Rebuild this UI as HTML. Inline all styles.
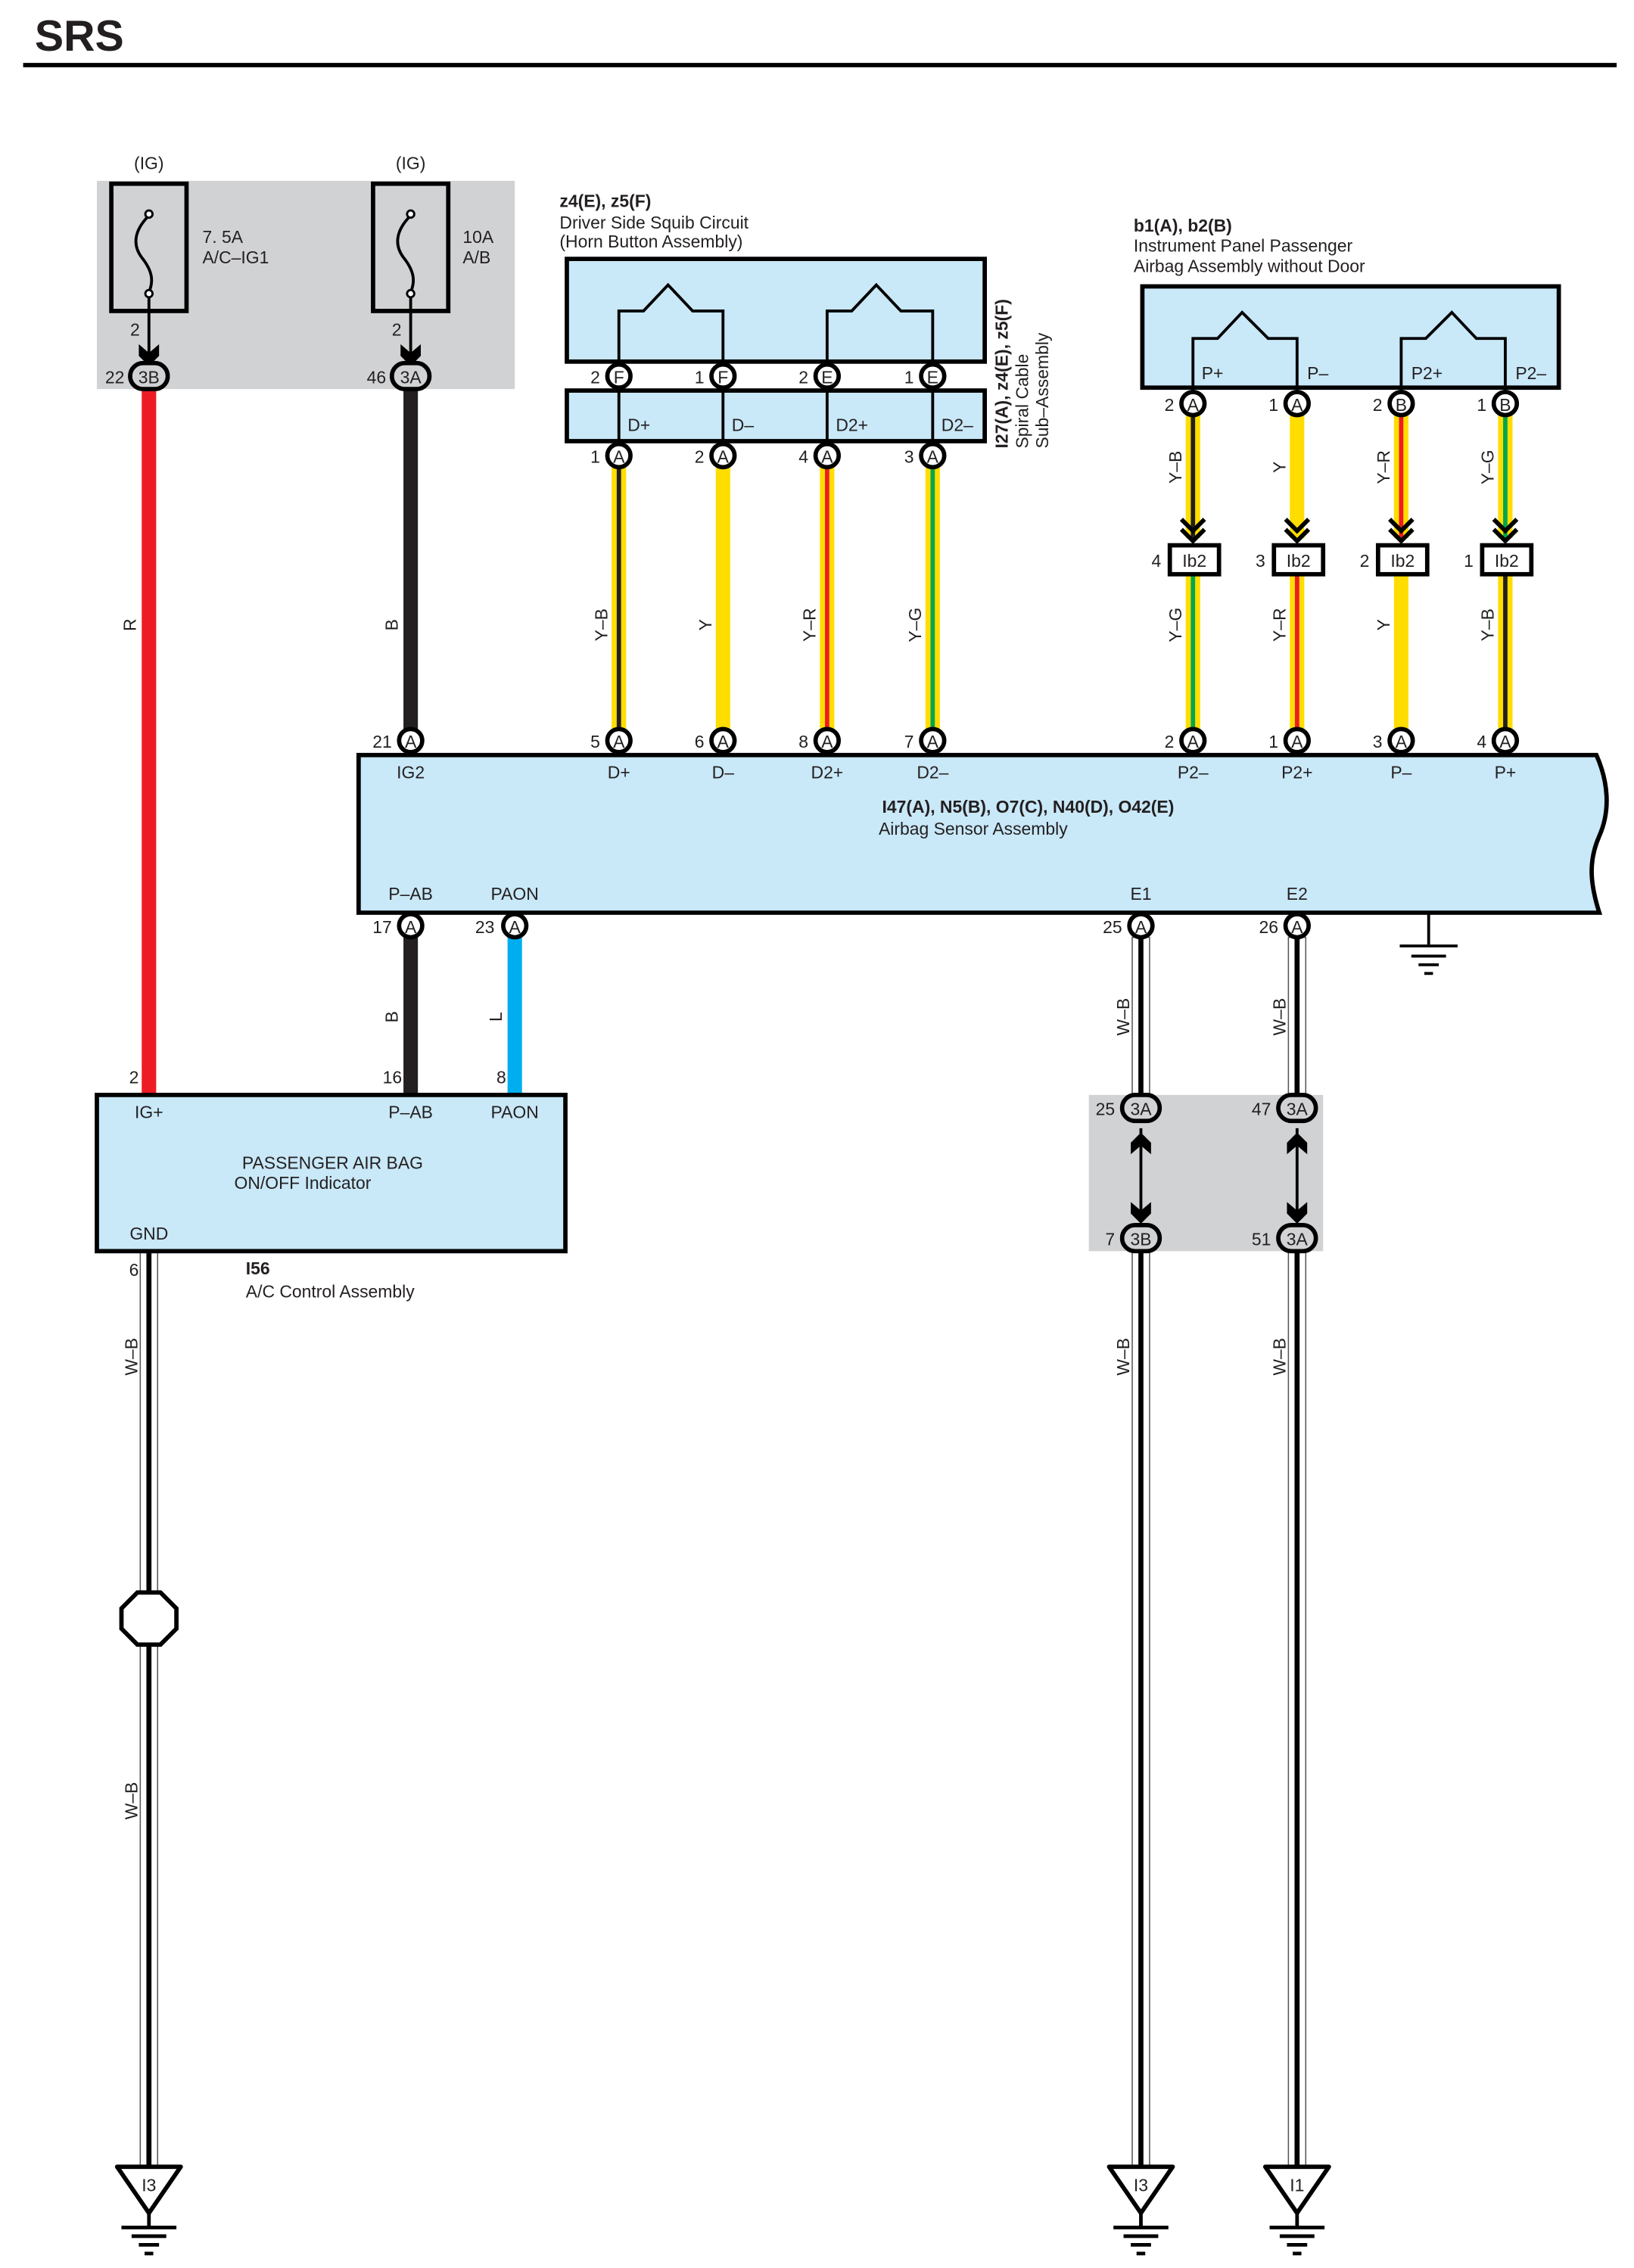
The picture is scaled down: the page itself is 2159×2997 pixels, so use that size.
<!DOCTYPE html>
<html><head><meta charset="utf-8">
<style>
html,body{margin:0;padding:0;background:#fff;}
svg{display:block;}
text{font-family:"Liberation Sans Narrow","Liberation Sans",sans-serif;font-size:12px;fill:#231f20;}
.b{font-weight:bold;}
.c{text-anchor:middle;}
.e{text-anchor:end;}
</style></head><body>
<svg width="2159" height="2997" viewBox="0 0 1130 1568" preserveAspectRatio="none" xmlns="http://www.w3.org/2000/svg">
<!-- title -->
<text x="24" y="35" style="font-family:'Liberation Sans',sans-serif;font-size:30px;font-weight:bold">SRS</text>
<line x1="16" y1="45" x2="1118" y2="45" stroke="#000" stroke-width="3"/>

<rect x="67" y="125" width="289" height="144" fill="#d1d2d4"/>
<rect x="753" y="757" width="162" height="108" fill="#d1d2d4"/>

<!-- fuses -->
<text x="103" y="117" class="c">(IG)</text>
<text x="284" y="117" class="c">(IG)</text>
<rect x="77" y="127" width="52" height="88" fill="none" stroke="#000" stroke-width="3"/>
<rect x="258" y="127" width="52" height="88" fill="none" stroke="#000" stroke-width="3"/>
<g fill="none" stroke="#000" stroke-width="2">
<path d="M103 149 C92 160,92 170,98 178 C106 188,106 195,103 202"/>
<path d="M284 149 C273 160,273 170,279 178 C287 188,287 195,284 202"/>
<line x1="103" y1="202" x2="103" y2="248"/>
<line x1="284" y1="202" x2="284" y2="248"/>
</g>
<circle cx="103" cy="148" r="2.5" fill="#fff" stroke="#000" stroke-width="1.5"/>
<circle cx="103" cy="203" r="2.5" fill="#fff" stroke="#000" stroke-width="1.5"/>
<circle cx="284" cy="148" r="2.5" fill="#fff" stroke="#000" stroke-width="1.5"/>
<circle cx="284" cy="203" r="2.5" fill="#fff" stroke="#000" stroke-width="1.5"/>
<path d="M96 238 L103 244 L110 238 L110 246 L103 253 L96 246Z" fill="#000"/>
<path d="M277 238 L284 244 L291 238 L291 246 L284 253 L277 246Z" fill="#000"/>
<text x="140" y="168">7. 5A</text><text x="140" y="182">A/C–IG1</text>
<text x="320" y="168">10A</text><text x="320" y="182">A/B</text>
<text x="90" y="232">2</text><text x="271" y="232">2</text>

<line x1="103" y1="268" x2="103" y2="757" stroke="#ed1c24" stroke-width="10"/>
<line x1="284" y1="268" x2="284" y2="512" stroke="#231f20" stroke-width="10"/>
<line x1="284" y1="640" x2="284" y2="757" stroke="#231f20" stroke-width="10"/>
<line x1="356" y1="640" x2="356" y2="757" stroke="#00aeef" stroke-width="10"/>
<g transform="translate(94,432) rotate(-90)"><text class="c">R</text></g>
<g transform="translate(275,432) rotate(-90)"><text class="c">B</text></g>
<g transform="translate(275,703) rotate(-90)"><text class="c">B</text></g>
<g transform="translate(347,703) rotate(-90)"><text class="c">L</text></g>

<rect x="90" y="251" width="26" height="18" rx="9" fill="#d1d2d4" stroke="#000" stroke-width="3"/>
<text x="103" y="265" class="c">3B</text><text x="86" y="265" class="e">22</text>
<rect x="271" y="251" width="26" height="18" rx="9" fill="#d1d2d4" stroke="#000" stroke-width="3"/>
<text x="284" y="265" class="c">3A</text><text x="267" y="265" class="e">46</text>

<!-- driver squib -->
<text x="387" y="143" class="b">z4(E), z5(F)</text>
<text x="387" y="158">Driver Side Squib Circuit</text>
<text x="387" y="171">(Horn Button Assembly)</text>
<rect x="392" y="179" width="289" height="71" fill="#c9e8f8" stroke="#000" stroke-width="3"/>
<rect x="392" y="270" width="289" height="35" fill="#c9e8f8" stroke="#000" stroke-width="3"/>
<g fill="none" stroke="#000" stroke-width="2">
<path d="M428 260 V215 H445 L462 197 L479 215 H500 V260"/>
<path d="M572 260 V215 H589 L606 197 L623 215 H645 V260"/>
<line x1="428" y1="270" x2="428" y2="305"/><line x1="500" y1="270" x2="500" y2="305"/>
<line x1="572" y1="270" x2="572" y2="305"/><line x1="645" y1="270" x2="645" y2="305"/>
</g>
<text x="434" y="298">D+</text><text x="506" y="298">D–</text><text x="578" y="298">D2+</text><text x="651" y="298">D2–</text>
<g transform="translate(697,310) rotate(-90)"><text class="b">I27(A), z4(E), z5(F)</text></g>
<g transform="translate(711,310) rotate(-90)"><text>Spiral Cable</text></g>
<g transform="translate(725,310) rotate(-90)"><text>Sub–Assembly</text></g>

<line x1="428" y1="320" x2="428" y2="506" stroke="#ffdd00" stroke-width="10"/><line x1="428" y1="320" x2="428" y2="506" stroke="#231f20" stroke-width="3"/>
<line x1="500" y1="320" x2="500" y2="506" stroke="#ffdd00" stroke-width="10"/>
<line x1="572" y1="320" x2="572" y2="506" stroke="#ffdd00" stroke-width="10"/><line x1="572" y1="320" x2="572" y2="506" stroke="#ed1c24" stroke-width="3"/>
<line x1="645" y1="320" x2="645" y2="506" stroke="#ffdd00" stroke-width="10"/><line x1="645" y1="320" x2="645" y2="506" stroke="#00a651" stroke-width="3"/>
<g transform="translate(420,432) rotate(-90)"><text class="c">Y–B</text></g>
<g transform="translate(492,432) rotate(-90)"><text class="c">Y</text></g>
<g transform="translate(564,432) rotate(-90)"><text class="c">Y–R</text></g>
<g transform="translate(637,432) rotate(-90)"><text class="c">Y–G</text></g>

<!-- passenger airbag -->
<text x="784" y="160" class="b">b1(A), b2(B)</text>
<text x="784" y="174">Instrument Panel Passenger</text>
<text x="784" y="188">Airbag Assembly without Door</text>
<rect x="790" y="198" width="288" height="70" fill="#c9e8f8" stroke="#000" stroke-width="3"/>
<g fill="none" stroke="#000" stroke-width="2">
<path d="M825 270 V234 H842 L859 216 L877 234 H897 V270"/>
<path d="M969 270 V234 H986 L1004 216 L1021 234 H1041 V270"/>
</g>
<text x="831" y="262">P+</text><text x="904" y="262">P–</text><text x="976" y="262">P2+</text><text x="1048" y="262">P2–</text>

<g>
<line x1="825" y1="285" x2="825" y2="372" stroke="#ffdd00" stroke-width="10"/><line x1="825" y1="285" x2="825" y2="372" stroke="#231f20" stroke-width="3"/>
<line x1="897" y1="285" x2="897" y2="372" stroke="#ffdd00" stroke-width="10"/>
<line x1="969" y1="285" x2="969" y2="372" stroke="#ffdd00" stroke-width="10"/><line x1="969" y1="285" x2="969" y2="372" stroke="#ed1c24" stroke-width="3"/>
<line x1="1041" y1="285" x2="1041" y2="372" stroke="#ffdd00" stroke-width="10"/><line x1="1041" y1="285" x2="1041" y2="372" stroke="#00a651" stroke-width="3"/>
<line x1="825" y1="397" x2="825" y2="506" stroke="#ffdd00" stroke-width="10"/><line x1="825" y1="397" x2="825" y2="506" stroke="#00a651" stroke-width="3"/>
<line x1="897" y1="397" x2="897" y2="506" stroke="#ffdd00" stroke-width="10"/><line x1="897" y1="397" x2="897" y2="506" stroke="#ed1c24" stroke-width="3"/>
<line x1="969" y1="397" x2="969" y2="506" stroke="#ffdd00" stroke-width="10"/>
<line x1="1041" y1="397" x2="1041" y2="506" stroke="#ffdd00" stroke-width="10"/><line x1="1041" y1="397" x2="1041" y2="506" stroke="#231f20" stroke-width="3"/>
</g>
<g fill="none" stroke="#000" stroke-width="3">
<path d="M817 359 L825 367 L833 359 M817 366 L825 374 L833 366"/>
<path d="M889 359 L897 367 L905 359 M889 366 L897 374 L905 366"/>
<path d="M961 359 L969 367 L977 359 M961 366 L969 374 L977 366"/>
<path d="M1033 359 L1041 367 L1049 359 M1033 366 L1041 374 L1049 366"/>
</g>
<g fill="#fff" stroke="#000" stroke-width="3">
<rect x="809" y="377" width="34" height="20"/><rect x="881" y="377" width="34" height="20"/>
<rect x="953" y="377" width="34" height="20"/><rect x="1025" y="377" width="34" height="20"/>
</g>
<text x="826" y="392" class="c">Ib2</text><text x="898" y="392" class="c">Ib2</text><text x="970" y="392" class="c">Ib2</text><text x="1042" y="392" class="c">Ib2</text>
<text x="803" y="392" class="e">4</text><text x="875" y="392" class="e">3</text><text x="947" y="392" class="e">2</text><text x="1019" y="392" class="e">1</text>
<g transform="translate(817,323) rotate(-90)"><text class="c">Y–B</text></g>
<g transform="translate(889,323) rotate(-90)"><text class="c">Y</text></g>
<g transform="translate(961,323) rotate(-90)"><text class="c">Y–R</text></g>
<g transform="translate(1033,323) rotate(-90)"><text class="c">Y–G</text></g>
<g transform="translate(817,432) rotate(-90)"><text class="c">Y–G</text></g>
<g transform="translate(889,432) rotate(-90)"><text class="c">Y–R</text></g>
<g transform="translate(961,432) rotate(-90)"><text class="c">Y</text></g>
<g transform="translate(1033,432) rotate(-90)"><text class="c">Y–B</text></g>

<!-- airbag sensor -->
<path d="M248 522 H1104 C1112 540,1114 560,1106 578 C1098 596,1100 612,1106 631 H248 Z" fill="#c9e8f8" stroke="#000" stroke-width="3"/>
<text x="711" y="562" class="c b">I47(A), N5(B), O7(C), N40(D), O42(E)</text>
<text x="673" y="577" class="c">Airbag Sensor Assembly</text>
<text x="284" y="538" class="c">IG2</text><text x="428" y="538" class="c">D+</text><text x="500" y="538" class="c">D–</text>
<text x="572" y="538" class="c">D2+</text><text x="645" y="538" class="c">D2–</text><text x="825" y="538" class="c">P2–</text>
<text x="897" y="538" class="c">P2+</text><text x="969" y="538" class="c">P–</text><text x="1041" y="538" class="c">P+</text>
<text x="284" y="622" class="c">P–AB</text><text x="356" y="622" class="c">PAON</text>
<text x="789" y="622" class="c">E1</text><text x="897" y="622" class="c">E2</text>
<g stroke="#000" stroke-width="2">
<line x1="988" y1="631" x2="988" y2="653"/>
<line x1="968" y1="654" x2="1008" y2="654"/>
<line x1="976" y1="661" x2="1000" y2="661"/>
<line x1="981" y1="667" x2="995" y2="667"/>
<line x1="985" y1="673" x2="991" y2="673"/>
</g>

<!-- W-B wires -->
<g>
<rect x="783" y="648" width="12" height="110" fill="#fff" stroke="#555" stroke-width="0.8"/>
<line x1="789" y1="648" x2="789" y2="758" stroke="#000" stroke-width="3.5"/>
<rect x="891" y="648" width="12" height="110" fill="#fff" stroke="#555" stroke-width="0.8"/>
<line x1="897" y1="648" x2="897" y2="758" stroke="#000" stroke-width="3.5"/>
<rect x="783" y="864" width="12" height="634" fill="#fff" stroke="#555" stroke-width="0.8"/>
<line x1="789" y1="864" x2="789" y2="1498" stroke="#000" stroke-width="3.5"/>
<rect x="891" y="864" width="12" height="634" fill="#fff" stroke="#555" stroke-width="0.8"/>
<line x1="897" y1="864" x2="897" y2="1498" stroke="#000" stroke-width="3.5"/>
<rect x="97" y="865" width="12" height="633" fill="#fff" stroke="#555" stroke-width="0.8"/>
<line x1="103" y1="865" x2="103" y2="1498" stroke="#000" stroke-width="3.5"/>
</g>
<g transform="translate(781,703) rotate(-90)"><text class="c">W–B</text></g>
<g transform="translate(889,703) rotate(-90)"><text class="c">W–B</text></g>
<g transform="translate(781,938) rotate(-90)"><text class="c">W–B</text></g>
<g transform="translate(889,938) rotate(-90)"><text class="c">W–B</text></g>
<g transform="translate(95,938) rotate(-90)"><text class="c">W–B</text></g>
<g transform="translate(95,1245) rotate(-90)"><text class="c">W–B</text></g>

<path d="M95 1101 H111 L122 1112 V1126 L111 1137 H95 L84 1126 V1112 Z" fill="#fff" stroke="#000" stroke-width="3"/>

<g fill="none" stroke="#000" stroke-width="2">
<line x1="789" y1="780" x2="789" y2="845"/><line x1="897" y1="780" x2="897" y2="845"/>
</g>
<g fill="#000">
<path d="M782 790 L789 783 L796 790 L796 798 L789 792 L782 798Z"/>
<path d="M890 790 L897 783 L904 790 L904 798 L897 792 L890 798Z"/>
<path d="M782 831 L789 837 L796 831 L796 839 L789 846 L782 839Z"/>
<path d="M890 831 L897 837 L904 831 L904 839 L897 846 L890 839Z"/>
</g>
<g fill="#d1d2d4" stroke="#000" stroke-width="3">
<rect x="776" y="757" width="26" height="18" rx="9"/><rect x="884" y="757" width="26" height="18" rx="9"/>
<rect x="776" y="847" width="26" height="18" rx="9"/><rect x="884" y="847" width="26" height="18" rx="9"/>
</g>
<text x="789" y="771" class="c">3A</text><text x="897" y="771" class="c">3A</text>
<text x="789" y="861" class="c">3B</text><text x="897" y="861" class="c">3A</text>
<text x="771" y="771" class="e">25</text><text x="879" y="771" class="e">47</text>
<text x="771" y="861" class="e">7</text><text x="879" y="861" class="e">51</text>

<rect x="67" y="757" width="324" height="108" fill="#c9e8f8" stroke="#000" stroke-width="3"/>
<text x="103" y="773" class="c">IG+</text><text x="284" y="773" class="c">P–AB</text><text x="356" y="773" class="c">PAON</text>
<text x="230" y="808" class="c">PASSENGER AIR BAG</text>
<text x="162" y="822">ON/OFF Indicator</text>
<text x="103" y="857" class="c">GND</text>
<text x="96" y="749" class="e">2</text><text x="278" y="749" class="e">16</text><text x="350" y="749" class="e">8</text>
<text x="96" y="882" class="e">6</text>
<text x="170" y="881" class="b">I56</text>
<text x="170" y="897">A/C Control Assembly</text>

<g fill="#fff" stroke="#000" stroke-width="3">
<circle cx="428" cy="260" r="8"/><circle cx="500" cy="260" r="8"/><circle cx="572" cy="260" r="8"/><circle cx="645" cy="260" r="8"/>
<circle cx="428" cy="315" r="8"/><circle cx="500" cy="315" r="8"/><circle cx="572" cy="315" r="8"/><circle cx="645" cy="315" r="8"/>
<circle cx="825" cy="279" r="8"/><circle cx="897" cy="279" r="8"/><circle cx="969" cy="279" r="8"/><circle cx="1041" cy="279" r="8"/>
<circle cx="284" cy="512" r="8"/><circle cx="428" cy="512" r="8"/><circle cx="500" cy="512" r="8"/><circle cx="572" cy="512" r="8"/><circle cx="645" cy="512" r="8"/>
<circle cx="825" cy="512" r="8"/><circle cx="897" cy="512" r="8"/><circle cx="969" cy="512" r="8"/><circle cx="1041" cy="512" r="8"/>
<circle cx="284" cy="640" r="8"/><circle cx="356" cy="640" r="8"/><circle cx="789" cy="640" r="8"/><circle cx="897" cy="640" r="8"/>
</g>
<g>
<text x="428" y="265" class="c">F</text><text x="500" y="265" class="c">F</text><text x="572" y="265" class="c">E</text><text x="645" y="265" class="c">E</text>
<text x="415" y="265" class="e">2</text><text x="487" y="265" class="e">1</text><text x="559" y="265" class="e">2</text><text x="632" y="265" class="e">1</text>
<text x="428" y="320" class="c">A</text><text x="500" y="320" class="c">A</text><text x="572" y="320" class="c">A</text><text x="645" y="320" class="c">A</text>
<text x="415" y="320" class="e">1</text><text x="487" y="320" class="e">2</text><text x="559" y="320" class="e">4</text><text x="632" y="320" class="e">3</text>
<text x="825" y="284" class="c">A</text><text x="897" y="284" class="c">A</text><text x="969" y="284" class="c">B</text><text x="1041" y="284" class="c">B</text>
<text x="812" y="284" class="e">2</text><text x="884" y="284" class="e">1</text><text x="956" y="284" class="e">2</text><text x="1028" y="284" class="e">1</text>
<text x="284" y="517" class="c">A</text><text x="428" y="517" class="c">A</text><text x="500" y="517" class="c">A</text><text x="572" y="517" class="c">A</text><text x="645" y="517" class="c">A</text>
<text x="825" y="517" class="c">A</text><text x="897" y="517" class="c">A</text><text x="969" y="517" class="c">A</text><text x="1041" y="517" class="c">A</text>
<text x="271" y="517" class="e">21</text><text x="415" y="517" class="e">5</text><text x="487" y="517" class="e">6</text><text x="559" y="517" class="e">8</text><text x="632" y="517" class="e">7</text>
<text x="812" y="517" class="e">2</text><text x="884" y="517" class="e">1</text><text x="956" y="517" class="e">3</text><text x="1028" y="517" class="e">4</text>
<text x="284" y="645" class="c">A</text><text x="356" y="645" class="c">A</text><text x="789" y="645" class="c">A</text><text x="897" y="645" class="c">A</text>
<text x="271" y="645" class="e">17</text><text x="342" y="645" class="e">23</text><text x="776" y="645" class="e">25</text><text x="884" y="645" class="e">26</text>
</g>

<g fill="#fff" stroke="#000" stroke-width="3" stroke-linejoin="round">
<path d="M81 1498 H125 L103 1530 Z"/>
<path d="M767 1498 H811 L789 1530 Z"/>
<path d="M875 1498 H919 L897 1530 Z"/>
</g>
<text x="103" y="1515" class="c">I3</text><text x="789" y="1515" class="c">I3</text><text x="897" y="1515" class="c">I1</text>
<g stroke="#000" stroke-width="2.5">
<path d="M103 1530 V1540 M84 1540 H122 M91 1546 H115 M96 1552 H110 M100 1558 H106"/>
<path d="M789 1530 V1540 M770 1540 H808 M777 1546 H801 M782 1552 H796 M786 1558 H792"/>
<path d="M897 1530 V1540 M878 1540 H916 M885 1546 H909 M890 1552 H904 M894 1558 H900"/>
</g>
</svg>
</body></html>
